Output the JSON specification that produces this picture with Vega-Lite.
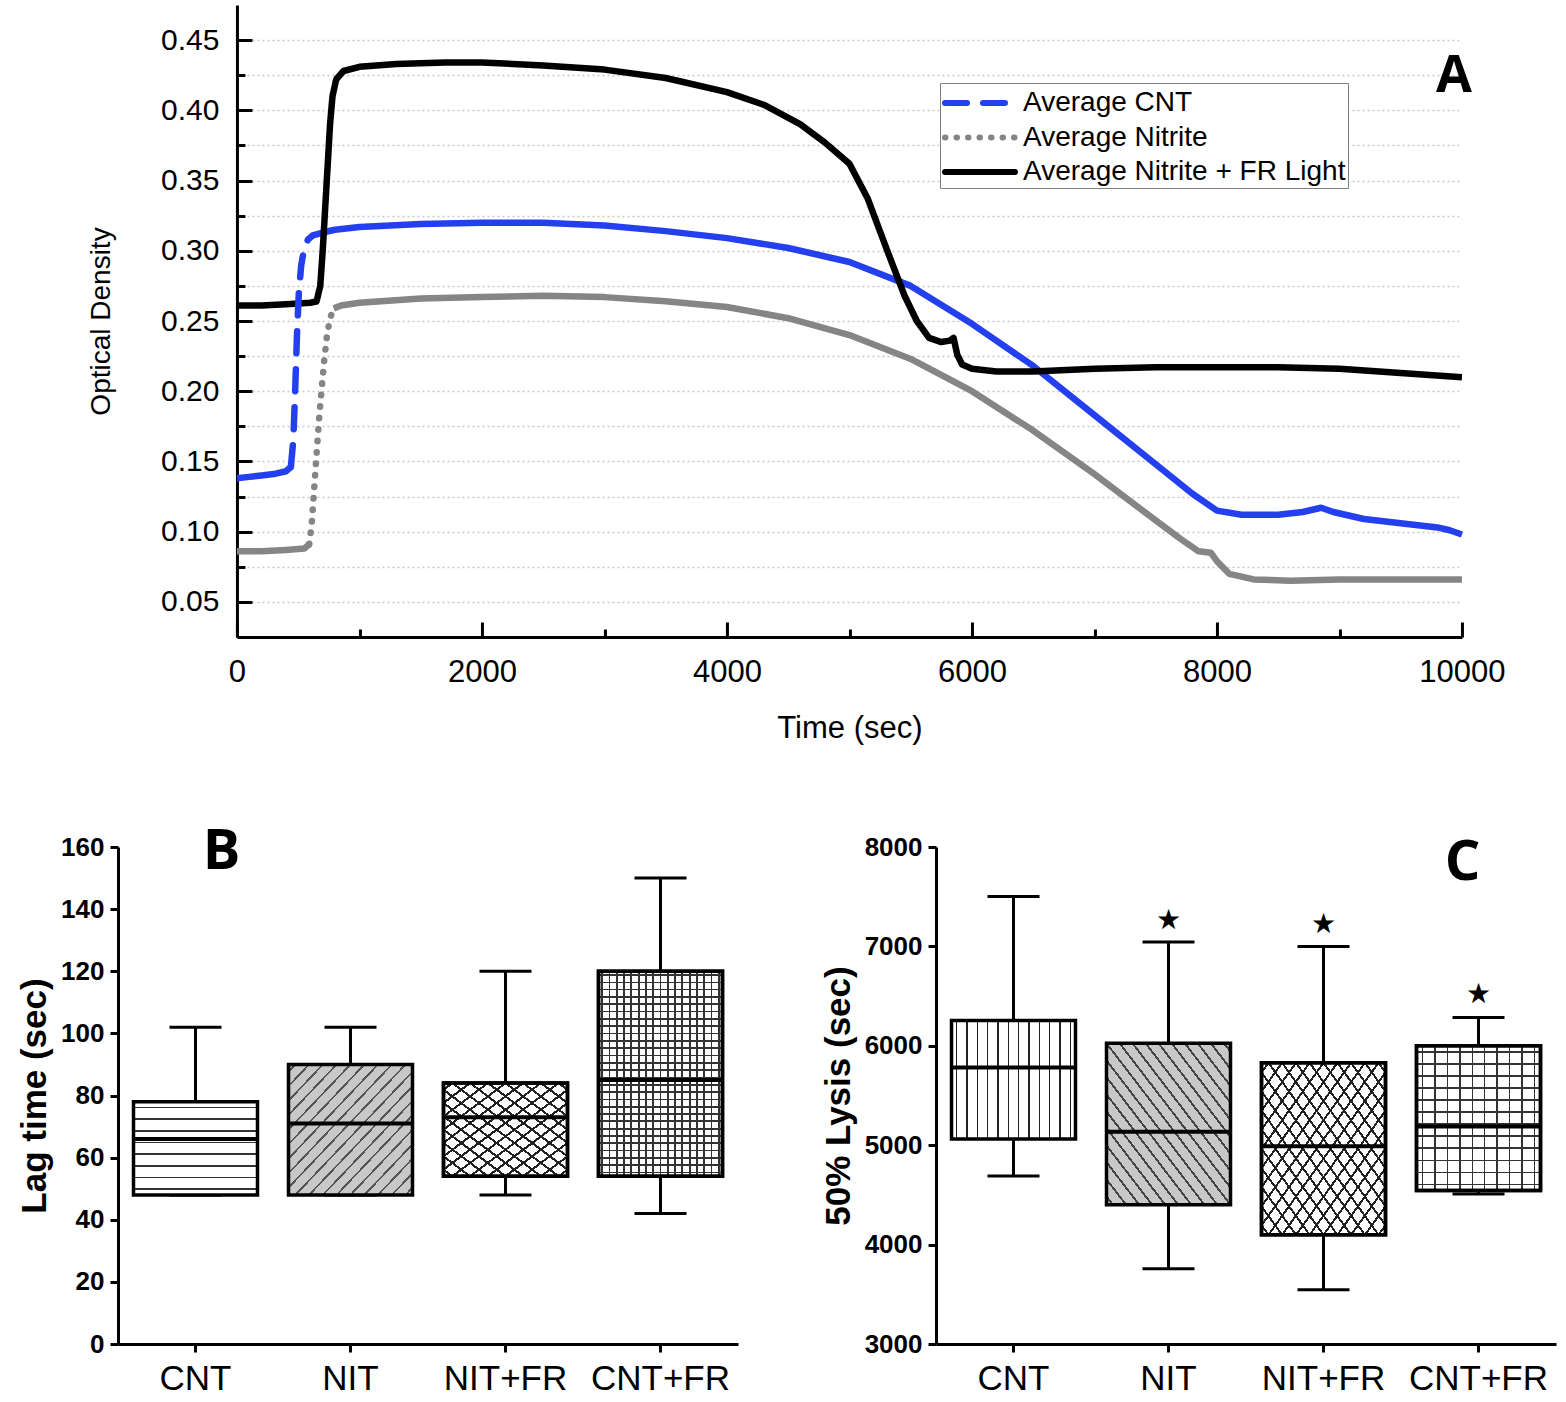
{
"$schema": "https://vega.github.io/schema/vega-lite/v6.json",
"background": "white",
"padding": {"left": 17, "top": 5, "right": 5, "bottom": 5},
"spacing": 80,
"center": true,
"config": {
  "view": {"stroke": null},
  "font": "Liberation Sans",
  "axis": {"domainColor": "#000", "tickColor": "#000", "labelColor": "#000", "titleColor": "#000", "domainWidth": 3, "tickWidth": 3, "labelFont": "Liberation Sans", "titleFont": "Liberation Sans"}
},
"vconcat": [
{
  "width": 1225, "height": 632,
  "data": {"values": [
    {"series":"Average CNT","part":"pre","time":0,"od":0.138},
    {"series":"Average CNT","part":"pre","time":100,"od":0.139},
    {"series":"Average CNT","part":"pre","time":200,"od":0.14},
    {"series":"Average CNT","part":"pre","time":300,"od":0.141},
    {"series":"Average CNT","part":"pre","time":400,"od":0.143},
    {"series":"Average CNT","part":"pre","time":440,"od":0.146},
    {"series":"Average CNT","part":"rise","time":440,"od":0.146},
    {"series":"Average CNT","part":"rise","time":460,"od":0.165},
    {"series":"Average CNT","part":"rise","time":475,"od":0.2},
    {"series":"Average CNT","part":"rise","time":490,"od":0.24},
    {"series":"Average CNT","part":"rise","time":505,"od":0.27},
    {"series":"Average CNT","part":"rise","time":525,"od":0.29},
    {"series":"Average CNT","part":"rise","time":550,"od":0.302},
    {"series":"Average CNT","part":"rise","time":580,"od":0.308},
    {"series":"Average CNT","part":"rise","time":620,"od":0.311},
    {"series":"Average CNT","part":"post","time":620,"od":0.311},
    {"series":"Average CNT","part":"post","time":700,"od":0.313},
    {"series":"Average CNT","part":"post","time":800,"od":0.315},
    {"series":"Average CNT","part":"post","time":1000,"od":0.317},
    {"series":"Average CNT","part":"post","time":1500,"od":0.319},
    {"series":"Average CNT","part":"post","time":2000,"od":0.32},
    {"series":"Average CNT","part":"post","time":2500,"od":0.32},
    {"series":"Average CNT","part":"post","time":3000,"od":0.318},
    {"series":"Average CNT","part":"post","time":3500,"od":0.314},
    {"series":"Average CNT","part":"post","time":4000,"od":0.309},
    {"series":"Average CNT","part":"post","time":4500,"od":0.302},
    {"series":"Average CNT","part":"post","time":5000,"od":0.292},
    {"series":"Average CNT","part":"post","time":5500,"od":0.275},
    {"series":"Average CNT","part":"post","time":6000,"od":0.248},
    {"series":"Average CNT","part":"post","time":6500,"od":0.218},
    {"series":"Average CNT","part":"post","time":7000,"od":0.183},
    {"series":"Average CNT","part":"post","time":7500,"od":0.148},
    {"series":"Average CNT","part":"post","time":7800,"od":0.127},
    {"series":"Average CNT","part":"post","time":8000,"od":0.115},
    {"series":"Average CNT","part":"post","time":8200,"od":0.112},
    {"series":"Average CNT","part":"post","time":8500,"od":0.112},
    {"series":"Average CNT","part":"post","time":8700,"od":0.114},
    {"series":"Average CNT","part":"post","time":8850,"od":0.117},
    {"series":"Average CNT","part":"post","time":8950,"od":0.114},
    {"series":"Average CNT","part":"post","time":9200,"od":0.109},
    {"series":"Average CNT","part":"post","time":9500,"od":0.106},
    {"series":"Average CNT","part":"post","time":9800,"od":0.103},
    {"series":"Average CNT","part":"post","time":9900,"od":0.101},
    {"series":"Average CNT","part":"post","time":10000,"od":0.098},
    {"series":"Average Nitrite","part":"pre","time":0,"od":0.086},
    {"series":"Average Nitrite","part":"pre","time":200,"od":0.086},
    {"series":"Average Nitrite","part":"pre","time":400,"od":0.087},
    {"series":"Average Nitrite","part":"pre","time":550,"od":0.088},
    {"series":"Average Nitrite","part":"pre","time":590,"od":0.091},
    {"series":"Average Nitrite","part":"rise","time":590,"od":0.091},
    {"series":"Average Nitrite","part":"rise","time":610,"od":0.105},
    {"series":"Average Nitrite","part":"rise","time":630,"od":0.13},
    {"series":"Average Nitrite","part":"rise","time":650,"od":0.155},
    {"series":"Average Nitrite","part":"rise","time":670,"od":0.18},
    {"series":"Average Nitrite","part":"rise","time":690,"od":0.2},
    {"series":"Average Nitrite","part":"rise","time":710,"od":0.22},
    {"series":"Average Nitrite","part":"rise","time":735,"od":0.24},
    {"series":"Average Nitrite","part":"rise","time":760,"od":0.252},
    {"series":"Average Nitrite","part":"rise","time":790,"od":0.259},
    {"series":"Average Nitrite","part":"post","time":790,"od":0.259},
    {"series":"Average Nitrite","part":"post","time":850,"od":0.261},
    {"series":"Average Nitrite","part":"post","time":1000,"od":0.263},
    {"series":"Average Nitrite","part":"post","time":1500,"od":0.266},
    {"series":"Average Nitrite","part":"post","time":2000,"od":0.267},
    {"series":"Average Nitrite","part":"post","time":2500,"od":0.268},
    {"series":"Average Nitrite","part":"post","time":3000,"od":0.267},
    {"series":"Average Nitrite","part":"post","time":3500,"od":0.264},
    {"series":"Average Nitrite","part":"post","time":4000,"od":0.26},
    {"series":"Average Nitrite","part":"post","time":4500,"od":0.252},
    {"series":"Average Nitrite","part":"post","time":5000,"od":0.24},
    {"series":"Average Nitrite","part":"post","time":5500,"od":0.223},
    {"series":"Average Nitrite","part":"post","time":6000,"od":0.2},
    {"series":"Average Nitrite","part":"post","time":6500,"od":0.172},
    {"series":"Average Nitrite","part":"post","time":7000,"od":0.141},
    {"series":"Average Nitrite","part":"post","time":7500,"od":0.108},
    {"series":"Average Nitrite","part":"post","time":7700,"od":0.095},
    {"series":"Average Nitrite","part":"post","time":7850,"od":0.086},
    {"series":"Average Nitrite","part":"post","time":7950,"od":0.085},
    {"series":"Average Nitrite","part":"post","time":8000,"od":0.079},
    {"series":"Average Nitrite","part":"post","time":8100,"od":0.07},
    {"series":"Average Nitrite","part":"post","time":8300,"od":0.066},
    {"series":"Average Nitrite","part":"post","time":8600,"od":0.065},
    {"series":"Average Nitrite","part":"post","time":9000,"od":0.066},
    {"series":"Average Nitrite","part":"post","time":9500,"od":0.066},
    {"series":"Average Nitrite","part":"post","time":10000,"od":0.066},
    {"series":"Average Nitrite + FR Light","part":"pre","time":0,"od":0.261},
    {"series":"Average Nitrite + FR Light","part":"pre","time":200,"od":0.261},
    {"series":"Average Nitrite + FR Light","part":"pre","time":400,"od":0.262},
    {"series":"Average Nitrite + FR Light","part":"pre","time":600,"od":0.263},
    {"series":"Average Nitrite + FR Light","part":"pre","time":650,"od":0.264},
    {"series":"Average Nitrite + FR Light","part":"rise","time":650,"od":0.264},
    {"series":"Average Nitrite + FR Light","part":"rise","time":680,"od":0.275},
    {"series":"Average Nitrite + FR Light","part":"rise","time":700,"od":0.3},
    {"series":"Average Nitrite + FR Light","part":"rise","time":720,"od":0.33},
    {"series":"Average Nitrite + FR Light","part":"rise","time":740,"od":0.36},
    {"series":"Average Nitrite + FR Light","part":"rise","time":760,"od":0.39},
    {"series":"Average Nitrite + FR Light","part":"rise","time":780,"od":0.41},
    {"series":"Average Nitrite + FR Light","part":"rise","time":810,"od":0.422},
    {"series":"Average Nitrite + FR Light","part":"post","time":810,"od":0.422},
    {"series":"Average Nitrite + FR Light","part":"post","time":870,"od":0.428},
    {"series":"Average Nitrite + FR Light","part":"post","time":1000,"od":0.431},
    {"series":"Average Nitrite + FR Light","part":"post","time":1300,"od":0.433},
    {"series":"Average Nitrite + FR Light","part":"post","time":1700,"od":0.434},
    {"series":"Average Nitrite + FR Light","part":"post","time":2000,"od":0.434},
    {"series":"Average Nitrite + FR Light","part":"post","time":2500,"od":0.432},
    {"series":"Average Nitrite + FR Light","part":"post","time":3000,"od":0.429},
    {"series":"Average Nitrite + FR Light","part":"post","time":3500,"od":0.423},
    {"series":"Average Nitrite + FR Light","part":"post","time":4000,"od":0.413},
    {"series":"Average Nitrite + FR Light","part":"post","time":4300,"od":0.404},
    {"series":"Average Nitrite + FR Light","part":"post","time":4600,"od":0.39},
    {"series":"Average Nitrite + FR Light","part":"post","time":4800,"od":0.377},
    {"series":"Average Nitrite + FR Light","part":"post","time":5000,"od":0.362},
    {"series":"Average Nitrite + FR Light","part":"post","time":5150,"od":0.337},
    {"series":"Average Nitrite + FR Light","part":"post","time":5300,"od":0.302},
    {"series":"Average Nitrite + FR Light","part":"post","time":5450,"od":0.268},
    {"series":"Average Nitrite + FR Light","part":"post","time":5550,"od":0.25},
    {"series":"Average Nitrite + FR Light","part":"post","time":5650,"od":0.238},
    {"series":"Average Nitrite + FR Light","part":"post","time":5750,"od":0.235},
    {"series":"Average Nitrite + FR Light","part":"post","time":5820,"od":0.236},
    {"series":"Average Nitrite + FR Light","part":"post","time":5850,"od":0.238},
    {"series":"Average Nitrite + FR Light","part":"post","time":5880,"od":0.226},
    {"series":"Average Nitrite + FR Light","part":"post","time":5920,"od":0.219},
    {"series":"Average Nitrite + FR Light","part":"post","time":6000,"od":0.216},
    {"series":"Average Nitrite + FR Light","part":"post","time":6200,"od":0.214},
    {"series":"Average Nitrite + FR Light","part":"post","time":6500,"od":0.214},
    {"series":"Average Nitrite + FR Light","part":"post","time":7000,"od":0.216},
    {"series":"Average Nitrite + FR Light","part":"post","time":7500,"od":0.217},
    {"series":"Average Nitrite + FR Light","part":"post","time":8000,"od":0.217},
    {"series":"Average Nitrite + FR Light","part":"post","time":8500,"od":0.217},
    {"series":"Average Nitrite + FR Light","part":"post","time":9000,"od":0.216},
    {"series":"Average Nitrite + FR Light","part":"post","time":9500,"od":0.213},
    {"series":"Average Nitrite + FR Light","part":"post","time":10000,"od":0.21}
  ]},
  "resolve": {"axis": {"x": "independent", "y": "independent"}},
  "layer": [
    {
      "transform": [{"filter": "datum.part !== 'rise'"}],
      "mark": {"type": "line", "strokeWidth": 6.5, "strokeJoin": "round"},
      "encoding": {
        "x": {"field": "time", "type": "quantitative", "scale": {"domain": [0, 10000], "nice": false},
              "axis": {"values": [0, 2000, 4000, 6000, 8000, 10000], "format": "d", "tickSize": -15, "labelPadding": 35, "labelFontSize": 31, "labelFlush": false, "title": "Time (sec)", "titleFontSize": 31, "titleFontWeight": "normal", "titlePadding": 26, "grid": false}},
        "y": {"field": "od", "type": "quantitative", "scale": {"domain": [0.025, 0.475], "nice": false, "zero": false},
              "axis": {"values": [0.05, 0.1, 0.15, 0.2, 0.25, 0.3, 0.35, 0.4, 0.45], "format": ".2f", "tickSize": -15, "labelPadding": 33, "labelFontSize": 30, "title": "Optical Density", "titleFontSize": 28, "titleFontWeight": "normal", "titlePadding": 45, "grid": true, "gridColor": "#c8c8c8", "gridDash": [2, 3], "gridWidth": 1.5}},
        "color": {"field": "series", "type": "nominal", "scale": {"domain": ["Average CNT", "Average Nitrite", "Average Nitrite + FR Light"], "range": ["#2440ee", "#858585", "#000000"]}},
        "detail": {"field": "part"}
      }
    },
    {
      "transform": [{"filter": "datum.part === 'rise'"}],
      "mark": {"type": "line", "strokeWidth": 6.5, "strokeCap": "round"},
      "encoding": {
        "x": {"field": "time", "type": "quantitative", "scale": {"domain": [0, 10000], "nice": false},
              "axis": {"orient": "bottom", "values": [1000, 3000, 5000, 7000, 9000], "tickSize": -8, "labels": false, "domain": false, "grid": false, "title": null}},
        "y": {"field": "od", "type": "quantitative", "scale": {"domain": [0.025, 0.475], "nice": false, "zero": false},
              "axis": {"orient": "left", "values": [0.075, 0.125, 0.175, 0.225, 0.275, 0.325, 0.375, 0.425], "tickSize": -8, "labels": false, "domain": false, "grid": true, "gridColor": "#c8c8c8", "gridDash": [2, 3], "gridWidth": 1.5, "title": null}},
        "color": {"field": "series", "type": "nominal", "scale": {"domain": ["Average CNT", "Average Nitrite", "Average Nitrite + FR Light"], "range": ["#2440ee", "#858585", "#000000"]},
                  "legend": {"title": null, "orient": "none", "legendX": 822, "legendY": 78, "symbolType": "M-1,0H3.667", "symbolSize": 900, "symbolStrokeWidth": 6, "labelFontSize": 28, "labelFont": "Liberation Sans", "labelColor": "#000", "labelLimit": 0, "labelOffset": 45, "strokeColor": "#808080", "fillColor": "#ffffff", "padding": 2, "rowPadding": 2.5, "encode": {"symbols": {"update": {"strokeCap": {"value": "round"}}}}}},
        "strokeDash": {"field": "series", "type": "nominal", "scale": {"domain": ["Average CNT", "Average Nitrite", "Average Nitrite + FR Light"], "range": [[22, 16], [0.5, 11], [1, 0]]},
                  "legend": {"title": null, "orient": "none", "legendX": 822, "legendY": 78, "symbolType": "M-1,0H3.667", "symbolSize": 900, "symbolStrokeWidth": 6, "labelFontSize": 28, "labelFont": "Liberation Sans", "labelColor": "#000", "labelLimit": 0, "labelOffset": 45, "strokeColor": "#808080", "fillColor": "#ffffff", "padding": 2, "rowPadding": 2.5, "encode": {"symbols": {"update": {"strokeCap": {"value": "round"}}}}}},
        "detail": {"field": "part"}
      }
    },
    {
      "data": {"values": [{"label": "A"}]},
      "mark": {"type": "text", "font": "Open Sans", "fontWeight": "bold", "fontSize": 52, "baseline": "middle", "align": "center"},
      "encoding": {
        "x": {"datum": 9935, "type": "quantitative", "axis": null},
        "y": {"datum": 0.4244, "type": "quantitative", "axis": null},
        "text": {"field": "label"}
      }
    }
  ]
},
{
  "spacing": 83,
  "hconcat": [
  {
    "width": 620, "height": 497,
    "data": {"values": [
      {"g": "CNT", "min": 48, "q1": 48, "med": 66, "q3": 78, "max": 102},
      {"g": "NIT", "min": 48, "q1": 48, "med": 71, "q3": 90, "max": 102},
      {"g": "NIT+FR", "min": 48, "q1": 54, "med": 73, "q3": 84, "max": 120},
      {"g": "CNT+FR", "min": 42, "q1": 54, "med": 85, "q3": 120, "max": 150}
    ]},
    "encoding": {"x": {"field": "g", "type": "nominal", "sort": ["CNT", "NIT", "NIT+FR", "CNT+FR"], "scale": {"paddingInner": 0.2, "paddingOuter": 0.1},
                       "axis": {"title": null, "labelAngle": 0, "labelFontSize": 35, "tickSize": 8, "labelPadding": 9}}},
    "layer": [
      {"mark": {"type": "rule", "strokeWidth": 3, "color": "#000"},
       "encoding": {"y": {"field": "min", "type": "quantitative", "scale": {"domain": [0, 160], "nice": false},
                          "axis": {"values": [0, 20, 40, 60, 80, 100, 120, 140, 160], "labelFontSize": 26, "labelFontWeight": "bold", "tickSize": 8, "labelPadding": 6, "title": "Lag time (sec)", "titleFontSize": 35, "titleFontWeight": "bold", "titlePadding": 8, "grid": false}},
                    "y2": {"field": "max"}}},
      {"mark": {"type": "tick", "size": 52, "thickness": 3, "color": "#000", "opacity": 1},
       "encoding": {"y": {"field": "max", "type": "quantitative", "scale": {"domain": [0, 160], "nice": false}}}},
      {"mark": {"type": "tick", "size": 52, "thickness": 3, "color": "#000", "opacity": 1},
       "encoding": {"y": {"field": "min", "type": "quantitative", "scale": {"domain": [0, 160], "nice": false}}}},
      {"transform": [{"filter": "datum.g === 'CNT'"}],
       "mark": {"type": "bar", "stroke": "#000", "strokeWidth": 3.5,
         "fill": {"gradient": "linear", "x1": 0, "y1": 0, "x2": 0, "y2": 1, "stops": [
           {"offset":0,"color":"#fff"},
           {"offset":0.054,"color":"#fff"},{"offset":0.054,"color":"#333"},{"offset":0.071,"color":"#333"},{"offset":0.071,"color":"#fff"},
           {"offset":0.179,"color":"#fff"},{"offset":0.179,"color":"#333"},{"offset":0.196,"color":"#333"},{"offset":0.196,"color":"#fff"},
           {"offset":0.304,"color":"#fff"},{"offset":0.304,"color":"#333"},{"offset":0.321,"color":"#333"},{"offset":0.321,"color":"#fff"},
           {"offset":0.429,"color":"#fff"},{"offset":0.429,"color":"#333"},{"offset":0.446,"color":"#333"},{"offset":0.446,"color":"#fff"},
           {"offset":0.554,"color":"#fff"},{"offset":0.554,"color":"#333"},{"offset":0.571,"color":"#333"},{"offset":0.571,"color":"#fff"},
           {"offset":0.679,"color":"#fff"},{"offset":0.679,"color":"#333"},{"offset":0.696,"color":"#333"},{"offset":0.696,"color":"#fff"},
           {"offset":0.804,"color":"#fff"},{"offset":0.804,"color":"#333"},{"offset":0.821,"color":"#333"},{"offset":0.821,"color":"#fff"},
           {"offset":0.929,"color":"#fff"},{"offset":0.929,"color":"#333"},{"offset":0.946,"color":"#333"},{"offset":0.946,"color":"#fff"},
           {"offset":1,"color":"#fff"}]}},
       "encoding": {"y": {"field": "q1", "type": "quantitative", "scale": {"domain": [0, 160], "nice": false}}, "y2": {"field": "q3"}}},
      {"transform": [{"filter": "datum.g === 'NIT'"}],
       "mark": {"type": "bar", "stroke": "#000", "strokeWidth": 3.5,
         "fill": {"gradient": "linear", "x1": 0, "y1": 0, "x2": 1, "y2": 1, "stops": [
           {"offset":0,"color":"#c8c8c8"},
           {"offset":0.023,"color":"#c8c8c8"},{"offset":0.023,"color":"#555"},{"offset":0.033,"color":"#555"},{"offset":0.033,"color":"#c8c8c8"},
           {"offset":0.078,"color":"#c8c8c8"},{"offset":0.078,"color":"#555"},{"offset":0.088,"color":"#555"},{"offset":0.088,"color":"#c8c8c8"},
           {"offset":0.134,"color":"#c8c8c8"},{"offset":0.134,"color":"#555"},{"offset":0.144,"color":"#555"},{"offset":0.144,"color":"#c8c8c8"},
           {"offset":0.189,"color":"#c8c8c8"},{"offset":0.189,"color":"#555"},{"offset":0.199,"color":"#555"},{"offset":0.199,"color":"#c8c8c8"},
           {"offset":0.245,"color":"#c8c8c8"},{"offset":0.245,"color":"#555"},{"offset":0.255,"color":"#555"},{"offset":0.255,"color":"#c8c8c8"},
           {"offset":0.301,"color":"#c8c8c8"},{"offset":0.301,"color":"#555"},{"offset":0.311,"color":"#555"},{"offset":0.311,"color":"#c8c8c8"},
           {"offset":0.356,"color":"#c8c8c8"},{"offset":0.356,"color":"#555"},{"offset":0.366,"color":"#555"},{"offset":0.366,"color":"#c8c8c8"},
           {"offset":0.412,"color":"#c8c8c8"},{"offset":0.412,"color":"#555"},{"offset":0.422,"color":"#555"},{"offset":0.422,"color":"#c8c8c8"},
           {"offset":0.467,"color":"#c8c8c8"},{"offset":0.467,"color":"#555"},{"offset":0.477,"color":"#555"},{"offset":0.477,"color":"#c8c8c8"},
           {"offset":0.523,"color":"#c8c8c8"},{"offset":0.523,"color":"#555"},{"offset":0.533,"color":"#555"},{"offset":0.533,"color":"#c8c8c8"},
           {"offset":0.578,"color":"#c8c8c8"},{"offset":0.578,"color":"#555"},{"offset":0.588,"color":"#555"},{"offset":0.588,"color":"#c8c8c8"},
           {"offset":0.634,"color":"#c8c8c8"},{"offset":0.634,"color":"#555"},{"offset":0.644,"color":"#555"},{"offset":0.644,"color":"#c8c8c8"},
           {"offset":0.689,"color":"#c8c8c8"},{"offset":0.689,"color":"#555"},{"offset":0.699,"color":"#555"},{"offset":0.699,"color":"#c8c8c8"},
           {"offset":0.745,"color":"#c8c8c8"},{"offset":0.745,"color":"#555"},{"offset":0.755,"color":"#555"},{"offset":0.755,"color":"#c8c8c8"},
           {"offset":0.801,"color":"#c8c8c8"},{"offset":0.801,"color":"#555"},{"offset":0.811,"color":"#555"},{"offset":0.811,"color":"#c8c8c8"},
           {"offset":0.856,"color":"#c8c8c8"},{"offset":0.856,"color":"#555"},{"offset":0.866,"color":"#555"},{"offset":0.866,"color":"#c8c8c8"},
           {"offset":0.912,"color":"#c8c8c8"},{"offset":0.912,"color":"#555"},{"offset":0.922,"color":"#555"},{"offset":0.922,"color":"#c8c8c8"},
           {"offset":0.967,"color":"#c8c8c8"},{"offset":0.967,"color":"#555"},{"offset":0.977,"color":"#555"},{"offset":0.977,"color":"#c8c8c8"},
           {"offset":1,"color":"#c8c8c8"}]}},
       "encoding": {"y": {"field": "q1", "type": "quantitative", "scale": {"domain": [0, 160], "nice": false}}, "y2": {"field": "q3"}}},
      {"transform": [{"filter": "datum.g === 'NIT+FR'"}],
       "mark": {"type": "bar", "stroke": "#000", "strokeWidth": 3.5,
         "fill": {"gradient": "linear", "x1": 0, "y1": 0, "x2": 1, "y2": 1, "stops": [
           {"offset":0,"color":"#fff"},
           {"offset":0.029,"color":"#fff"},{"offset":0.029,"color":"#222"},{"offset":0.043,"color":"#222"},{"offset":0.043,"color":"#fff"},
           {"offset":0.100,"color":"#fff"},{"offset":0.100,"color":"#222"},{"offset":0.114,"color":"#222"},{"offset":0.114,"color":"#fff"},
           {"offset":0.172,"color":"#fff"},{"offset":0.172,"color":"#222"},{"offset":0.186,"color":"#222"},{"offset":0.186,"color":"#fff"},
           {"offset":0.243,"color":"#fff"},{"offset":0.243,"color":"#222"},{"offset":0.257,"color":"#222"},{"offset":0.257,"color":"#fff"},
           {"offset":0.314,"color":"#fff"},{"offset":0.314,"color":"#222"},{"offset":0.328,"color":"#222"},{"offset":0.328,"color":"#fff"},
           {"offset":0.386,"color":"#fff"},{"offset":0.386,"color":"#222"},{"offset":0.400,"color":"#222"},{"offset":0.400,"color":"#fff"},
           {"offset":0.457,"color":"#fff"},{"offset":0.457,"color":"#222"},{"offset":0.471,"color":"#222"},{"offset":0.471,"color":"#fff"},
           {"offset":0.529,"color":"#fff"},{"offset":0.529,"color":"#222"},{"offset":0.543,"color":"#222"},{"offset":0.543,"color":"#fff"},
           {"offset":0.600,"color":"#fff"},{"offset":0.600,"color":"#222"},{"offset":0.614,"color":"#222"},{"offset":0.614,"color":"#fff"},
           {"offset":0.672,"color":"#fff"},{"offset":0.672,"color":"#222"},{"offset":0.686,"color":"#222"},{"offset":0.686,"color":"#fff"},
           {"offset":0.743,"color":"#fff"},{"offset":0.743,"color":"#222"},{"offset":0.757,"color":"#222"},{"offset":0.757,"color":"#fff"},
           {"offset":0.814,"color":"#fff"},{"offset":0.814,"color":"#222"},{"offset":0.828,"color":"#222"},{"offset":0.828,"color":"#fff"},
           {"offset":0.886,"color":"#fff"},{"offset":0.886,"color":"#222"},{"offset":0.900,"color":"#222"},{"offset":0.900,"color":"#fff"},
           {"offset":0.957,"color":"#fff"},{"offset":0.957,"color":"#222"},{"offset":0.971,"color":"#222"},{"offset":0.971,"color":"#fff"},
           {"offset":1,"color":"#fff"}]}},
       "encoding": {"y": {"field": "q1", "type": "quantitative", "scale": {"domain": [0, 160], "nice": false}}, "y2": {"field": "q3"}}},
      {"transform": [{"filter": "datum.g === 'NIT+FR'"}],
       "mark": {"type": "bar", "stroke": "#000", "strokeWidth": 3.5,
         "fill": {"gradient": "linear", "x1": 1, "y1": 0, "x2": 0, "y2": 1, "stops": [
           {"offset":0,"color":"rgba(0,0,0,0)"},
           {"offset":0.029,"color":"rgba(0,0,0,0)"},{"offset":0.029,"color":"#222"},{"offset":0.043,"color":"#222"},{"offset":0.043,"color":"rgba(0,0,0,0)"},
           {"offset":0.100,"color":"rgba(0,0,0,0)"},{"offset":0.100,"color":"#222"},{"offset":0.114,"color":"#222"},{"offset":0.114,"color":"rgba(0,0,0,0)"},
           {"offset":0.172,"color":"rgba(0,0,0,0)"},{"offset":0.172,"color":"#222"},{"offset":0.186,"color":"#222"},{"offset":0.186,"color":"rgba(0,0,0,0)"},
           {"offset":0.243,"color":"rgba(0,0,0,0)"},{"offset":0.243,"color":"#222"},{"offset":0.257,"color":"#222"},{"offset":0.257,"color":"rgba(0,0,0,0)"},
           {"offset":0.314,"color":"rgba(0,0,0,0)"},{"offset":0.314,"color":"#222"},{"offset":0.328,"color":"#222"},{"offset":0.328,"color":"rgba(0,0,0,0)"},
           {"offset":0.386,"color":"rgba(0,0,0,0)"},{"offset":0.386,"color":"#222"},{"offset":0.400,"color":"#222"},{"offset":0.400,"color":"rgba(0,0,0,0)"},
           {"offset":0.457,"color":"rgba(0,0,0,0)"},{"offset":0.457,"color":"#222"},{"offset":0.471,"color":"#222"},{"offset":0.471,"color":"rgba(0,0,0,0)"},
           {"offset":0.529,"color":"rgba(0,0,0,0)"},{"offset":0.529,"color":"#222"},{"offset":0.543,"color":"#222"},{"offset":0.543,"color":"rgba(0,0,0,0)"},
           {"offset":0.600,"color":"rgba(0,0,0,0)"},{"offset":0.600,"color":"#222"},{"offset":0.614,"color":"#222"},{"offset":0.614,"color":"rgba(0,0,0,0)"},
           {"offset":0.672,"color":"rgba(0,0,0,0)"},{"offset":0.672,"color":"#222"},{"offset":0.686,"color":"#222"},{"offset":0.686,"color":"rgba(0,0,0,0)"},
           {"offset":0.743,"color":"rgba(0,0,0,0)"},{"offset":0.743,"color":"#222"},{"offset":0.757,"color":"#222"},{"offset":0.757,"color":"rgba(0,0,0,0)"},
           {"offset":0.814,"color":"rgba(0,0,0,0)"},{"offset":0.814,"color":"#222"},{"offset":0.828,"color":"#222"},{"offset":0.828,"color":"rgba(0,0,0,0)"},
           {"offset":0.886,"color":"rgba(0,0,0,0)"},{"offset":0.886,"color":"#222"},{"offset":0.900,"color":"#222"},{"offset":0.900,"color":"rgba(0,0,0,0)"},
           {"offset":0.957,"color":"rgba(0,0,0,0)"},{"offset":0.957,"color":"#222"},{"offset":0.971,"color":"#222"},{"offset":0.971,"color":"rgba(0,0,0,0)"},
           {"offset":1,"color":"rgba(0,0,0,0)"}]}},
       "encoding": {"y": {"field": "q1", "type": "quantitative", "scale": {"domain": [0, 160], "nice": false}}, "y2": {"field": "q3"}}},
      {"transform": [{"filter": "datum.g === 'CNT+FR'"}],
       "mark": {"type": "bar", "stroke": "#000", "strokeWidth": 3.5,
         "fill": {"gradient": "linear", "x1": 0, "y1": 0, "x2": 1, "y2": 0, "stops": [
           {"offset":0,"color":"#fff"},
           {"offset":0.022,"color":"#fff"},{"offset":0.022,"color":"#333"},{"offset":0.036,"color":"#333"},{"offset":0.036,"color":"#fff"},
           {"offset":0.081,"color":"#fff"},{"offset":0.081,"color":"#333"},{"offset":0.095,"color":"#333"},{"offset":0.095,"color":"#fff"},
           {"offset":0.140,"color":"#fff"},{"offset":0.140,"color":"#333"},{"offset":0.154,"color":"#333"},{"offset":0.154,"color":"#fff"},
           {"offset":0.199,"color":"#fff"},{"offset":0.199,"color":"#333"},{"offset":0.213,"color":"#333"},{"offset":0.213,"color":"#fff"},
           {"offset":0.258,"color":"#fff"},{"offset":0.258,"color":"#333"},{"offset":0.272,"color":"#333"},{"offset":0.272,"color":"#fff"},
           {"offset":0.317,"color":"#fff"},{"offset":0.317,"color":"#333"},{"offset":0.331,"color":"#333"},{"offset":0.331,"color":"#fff"},
           {"offset":0.375,"color":"#fff"},{"offset":0.375,"color":"#333"},{"offset":0.389,"color":"#333"},{"offset":0.389,"color":"#fff"},
           {"offset":0.434,"color":"#fff"},{"offset":0.434,"color":"#333"},{"offset":0.448,"color":"#333"},{"offset":0.448,"color":"#fff"},
           {"offset":0.493,"color":"#fff"},{"offset":0.493,"color":"#333"},{"offset":0.507,"color":"#333"},{"offset":0.507,"color":"#fff"},
           {"offset":0.552,"color":"#fff"},{"offset":0.552,"color":"#333"},{"offset":0.566,"color":"#333"},{"offset":0.566,"color":"#fff"},
           {"offset":0.611,"color":"#fff"},{"offset":0.611,"color":"#333"},{"offset":0.625,"color":"#333"},{"offset":0.625,"color":"#fff"},
           {"offset":0.669,"color":"#fff"},{"offset":0.669,"color":"#333"},{"offset":0.683,"color":"#333"},{"offset":0.683,"color":"#fff"},
           {"offset":0.728,"color":"#fff"},{"offset":0.728,"color":"#333"},{"offset":0.742,"color":"#333"},{"offset":0.742,"color":"#fff"},
           {"offset":0.787,"color":"#fff"},{"offset":0.787,"color":"#333"},{"offset":0.801,"color":"#333"},{"offset":0.801,"color":"#fff"},
           {"offset":0.846,"color":"#fff"},{"offset":0.846,"color":"#333"},{"offset":0.860,"color":"#333"},{"offset":0.860,"color":"#fff"},
           {"offset":0.905,"color":"#fff"},{"offset":0.905,"color":"#333"},{"offset":0.919,"color":"#333"},{"offset":0.919,"color":"#fff"},
           {"offset":0.964,"color":"#fff"},{"offset":0.964,"color":"#333"},{"offset":0.978,"color":"#333"},{"offset":0.978,"color":"#fff"},
           {"offset":1,"color":"#fff"}]}},
       "encoding": {"y": {"field": "q1", "type": "quantitative", "scale": {"domain": [0, 160], "nice": false}}, "y2": {"field": "q3"}}},
      {"transform": [{"filter": "datum.g === 'CNT+FR'"}],
       "mark": {"type": "bar", "stroke": "#000", "strokeWidth": 3.5,
         "fill": {"gradient": "linear", "x1": 0, "y1": 0, "x2": 0, "y2": 1, "stops": [
           {"offset":0,"color":"rgba(0,0,0,0)"},
           {"offset":0.014,"color":"rgba(0,0,0,0)"},{"offset":0.014,"color":"#333"},{"offset":0.022,"color":"#333"},{"offset":0.022,"color":"rgba(0,0,0,0)"},
           {"offset":0.050,"color":"rgba(0,0,0,0)"},{"offset":0.050,"color":"#333"},{"offset":0.058,"color":"#333"},{"offset":0.058,"color":"rgba(0,0,0,0)"},
           {"offset":0.085,"color":"rgba(0,0,0,0)"},{"offset":0.085,"color":"#333"},{"offset":0.093,"color":"#333"},{"offset":0.093,"color":"rgba(0,0,0,0)"},
           {"offset":0.121,"color":"rgba(0,0,0,0)"},{"offset":0.121,"color":"#333"},{"offset":0.129,"color":"#333"},{"offset":0.129,"color":"rgba(0,0,0,0)"},
           {"offset":0.157,"color":"rgba(0,0,0,0)"},{"offset":0.157,"color":"#333"},{"offset":0.165,"color":"#333"},{"offset":0.165,"color":"rgba(0,0,0,0)"},
           {"offset":0.192,"color":"rgba(0,0,0,0)"},{"offset":0.192,"color":"#333"},{"offset":0.200,"color":"#333"},{"offset":0.200,"color":"rgba(0,0,0,0)"},
           {"offset":0.228,"color":"rgba(0,0,0,0)"},{"offset":0.228,"color":"#333"},{"offset":0.236,"color":"#333"},{"offset":0.236,"color":"rgba(0,0,0,0)"},
           {"offset":0.264,"color":"rgba(0,0,0,0)"},{"offset":0.264,"color":"#333"},{"offset":0.272,"color":"#333"},{"offset":0.272,"color":"rgba(0,0,0,0)"},
           {"offset":0.300,"color":"rgba(0,0,0,0)"},{"offset":0.300,"color":"#333"},{"offset":0.308,"color":"#333"},{"offset":0.308,"color":"rgba(0,0,0,0)"},
           {"offset":0.335,"color":"rgba(0,0,0,0)"},{"offset":0.335,"color":"#333"},{"offset":0.343,"color":"#333"},{"offset":0.343,"color":"rgba(0,0,0,0)"},
           {"offset":0.371,"color":"rgba(0,0,0,0)"},{"offset":0.371,"color":"#333"},{"offset":0.379,"color":"#333"},{"offset":0.379,"color":"rgba(0,0,0,0)"},
           {"offset":0.407,"color":"rgba(0,0,0,0)"},{"offset":0.407,"color":"#333"},{"offset":0.415,"color":"#333"},{"offset":0.415,"color":"rgba(0,0,0,0)"},
           {"offset":0.442,"color":"rgba(0,0,0,0)"},{"offset":0.442,"color":"#333"},{"offset":0.450,"color":"#333"},{"offset":0.450,"color":"rgba(0,0,0,0)"},
           {"offset":0.478,"color":"rgba(0,0,0,0)"},{"offset":0.478,"color":"#333"},{"offset":0.486,"color":"#333"},{"offset":0.486,"color":"rgba(0,0,0,0)"},
           {"offset":0.514,"color":"rgba(0,0,0,0)"},{"offset":0.514,"color":"#333"},{"offset":0.522,"color":"#333"},{"offset":0.522,"color":"rgba(0,0,0,0)"},
           {"offset":0.550,"color":"rgba(0,0,0,0)"},{"offset":0.550,"color":"#333"},{"offset":0.558,"color":"#333"},{"offset":0.558,"color":"rgba(0,0,0,0)"},
           {"offset":0.585,"color":"rgba(0,0,0,0)"},{"offset":0.585,"color":"#333"},{"offset":0.593,"color":"#333"},{"offset":0.593,"color":"rgba(0,0,0,0)"},
           {"offset":0.621,"color":"rgba(0,0,0,0)"},{"offset":0.621,"color":"#333"},{"offset":0.629,"color":"#333"},{"offset":0.629,"color":"rgba(0,0,0,0)"},
           {"offset":0.657,"color":"rgba(0,0,0,0)"},{"offset":0.657,"color":"#333"},{"offset":0.665,"color":"#333"},{"offset":0.665,"color":"rgba(0,0,0,0)"},
           {"offset":0.692,"color":"rgba(0,0,0,0)"},{"offset":0.692,"color":"#333"},{"offset":0.700,"color":"#333"},{"offset":0.700,"color":"rgba(0,0,0,0)"},
           {"offset":0.728,"color":"rgba(0,0,0,0)"},{"offset":0.728,"color":"#333"},{"offset":0.736,"color":"#333"},{"offset":0.736,"color":"rgba(0,0,0,0)"},
           {"offset":0.764,"color":"rgba(0,0,0,0)"},{"offset":0.764,"color":"#333"},{"offset":0.772,"color":"#333"},{"offset":0.772,"color":"rgba(0,0,0,0)"},
           {"offset":0.800,"color":"rgba(0,0,0,0)"},{"offset":0.800,"color":"#333"},{"offset":0.808,"color":"#333"},{"offset":0.808,"color":"rgba(0,0,0,0)"},
           {"offset":0.835,"color":"rgba(0,0,0,0)"},{"offset":0.835,"color":"#333"},{"offset":0.843,"color":"#333"},{"offset":0.843,"color":"rgba(0,0,0,0)"},
           {"offset":0.871,"color":"rgba(0,0,0,0)"},{"offset":0.871,"color":"#333"},{"offset":0.879,"color":"#333"},{"offset":0.879,"color":"rgba(0,0,0,0)"},
           {"offset":0.907,"color":"rgba(0,0,0,0)"},{"offset":0.907,"color":"#333"},{"offset":0.915,"color":"#333"},{"offset":0.915,"color":"rgba(0,0,0,0)"},
           {"offset":0.942,"color":"rgba(0,0,0,0)"},{"offset":0.942,"color":"#333"},{"offset":0.950,"color":"#333"},{"offset":0.950,"color":"rgba(0,0,0,0)"},
           {"offset":0.978,"color":"rgba(0,0,0,0)"},{"offset":0.978,"color":"#333"},{"offset":0.986,"color":"#333"},{"offset":0.986,"color":"rgba(0,0,0,0)"},
           {"offset":1,"color":"rgba(0,0,0,0)"}]}},
       "encoding": {"y": {"field": "q1", "type": "quantitative", "scale": {"domain": [0, 160], "nice": false}}, "y2": {"field": "q3"}}},
      {"mark": {"type": "tick", "size": 124, "thickness": 4, "color": "#000", "opacity": 1},
       "encoding": {"y": {"field": "med", "type": "quantitative", "scale": {"domain": [0, 160], "nice": false}}}},
      {"data": {"values": [{"label": "B"}]},
       "mark": {"type": "text", "font": "Open Sans", "fontWeight": "bold", "fontSize": 56, "baseline": "middle", "align": "center", "dx": 26},
       "encoding": {"x": {"datum": "CNT", "type": "nominal"}, "y": {"datum": 158.4, "type": "quantitative"}, "text": {"field": "label"}}}
    ]
  },
  {
    "width": 620, "height": 497,
    "data": {"values": [
      {"g": "CNT", "min": 4690, "q1": 5062, "med": 5782, "q3": 6255, "max": 7502, "star": null},
      {"g": "NIT", "min": 3756, "q1": 4400, "med": 5135, "q3": 6025, "max": 7044, "star": 7255},
      {"g": "NIT+FR", "min": 3545, "q1": 4098, "med": 4989, "q3": 5829, "max": 7000, "star": 7218},
      {"g": "CNT+FR", "min": 4509, "q1": 4545, "med": 5189, "q3": 6000, "max": 6284, "star": 6509}
    ]},
    "encoding": {"x": {"field": "g", "type": "nominal", "sort": ["CNT", "NIT", "NIT+FR", "CNT+FR"], "scale": {"paddingInner": 0.2, "paddingOuter": 0.1},
                       "axis": {"labelAngle": 0, "labelFontSize": 35, "tickSize": 8, "labelPadding": 9, "title": " ", "titleOpacity": 0, "titleFontSize": 10, "titleX": 688, "titleY": 18, "titleAlign": "left", "titleBaseline": "top"}}},
    "layer": [
      {"mark": {"type": "rule", "strokeWidth": 3, "color": "#000"},
       "encoding": {"y": {"field": "min", "type": "quantitative", "scale": {"domain": [3000, 8000], "nice": false, "zero": false},
                          "axis": {"values": [3000, 4000, 5000, 6000, 7000, 8000], "format": "d", "labelFontSize": 26, "labelFontWeight": "bold", "tickSize": 8, "labelPadding": 6, "title": "50% Lysis (sec)", "titleFontSize": 35, "titleFontWeight": "bold", "titlePadding": 8, "grid": false}},
                    "y2": {"field": "max"}}},
      {"mark": {"type": "tick", "size": 52, "thickness": 3, "color": "#000", "opacity": 1},
       "encoding": {"y": {"field": "max", "type": "quantitative", "scale": {"domain": [3000, 8000], "nice": false, "zero": false}}}},
      {"mark": {"type": "tick", "size": 52, "thickness": 3, "color": "#000", "opacity": 1},
       "encoding": {"y": {"field": "min", "type": "quantitative", "scale": {"domain": [3000, 8000], "nice": false, "zero": false}}}},
      {"transform": [{"filter": "datum.g === 'CNT'"}],
       "mark": {"type": "bar", "stroke": "#000", "strokeWidth": 3.5,
         "fill": {"gradient": "linear", "x1": 0, "y1": 0, "x2": 1, "y2": 0, "stops": [
           {"offset":0,"color":"#fff"},
           {"offset":0.036,"color":"#fff"},{"offset":0.036,"color":"#222"},{"offset":0.048,"color":"#222"},{"offset":0.048,"color":"#fff"},
           {"offset":0.119,"color":"#fff"},{"offset":0.119,"color":"#222"},{"offset":0.131,"color":"#222"},{"offset":0.131,"color":"#fff"},
           {"offset":0.202,"color":"#fff"},{"offset":0.202,"color":"#222"},{"offset":0.214,"color":"#222"},{"offset":0.214,"color":"#fff"},
           {"offset":0.286,"color":"#fff"},{"offset":0.286,"color":"#222"},{"offset":0.298,"color":"#222"},{"offset":0.298,"color":"#fff"},
           {"offset":0.369,"color":"#fff"},{"offset":0.369,"color":"#222"},{"offset":0.381,"color":"#222"},{"offset":0.381,"color":"#fff"},
           {"offset":0.452,"color":"#fff"},{"offset":0.452,"color":"#222"},{"offset":0.464,"color":"#222"},{"offset":0.464,"color":"#fff"},
           {"offset":0.536,"color":"#fff"},{"offset":0.536,"color":"#222"},{"offset":0.548,"color":"#222"},{"offset":0.548,"color":"#fff"},
           {"offset":0.619,"color":"#fff"},{"offset":0.619,"color":"#222"},{"offset":0.631,"color":"#222"},{"offset":0.631,"color":"#fff"},
           {"offset":0.702,"color":"#fff"},{"offset":0.702,"color":"#222"},{"offset":0.714,"color":"#222"},{"offset":0.714,"color":"#fff"},
           {"offset":0.786,"color":"#fff"},{"offset":0.786,"color":"#222"},{"offset":0.798,"color":"#222"},{"offset":0.798,"color":"#fff"},
           {"offset":0.869,"color":"#fff"},{"offset":0.869,"color":"#222"},{"offset":0.881,"color":"#222"},{"offset":0.881,"color":"#fff"},
           {"offset":0.952,"color":"#fff"},{"offset":0.952,"color":"#222"},{"offset":0.964,"color":"#222"},{"offset":0.964,"color":"#fff"},
           {"offset":1,"color":"#fff"}]}},
       "encoding": {"y": {"field": "q1", "type": "quantitative", "scale": {"domain": [3000, 8000], "nice": false, "zero": false}}, "y2": {"field": "q3"}}},
      {"transform": [{"filter": "datum.g === 'NIT'"}],
       "mark": {"type": "bar", "stroke": "#000", "strokeWidth": 3.5,
         "fill": {"gradient": "linear", "x1": 1, "y1": 0, "x2": 0, "y2": 1, "stops": [
           {"offset":0,"color":"#c8c8c8"},
           {"offset":0.021,"color":"#c8c8c8"},{"offset":0.021,"color":"#444"},{"offset":0.031,"color":"#444"},{"offset":0.031,"color":"#c8c8c8"},
           {"offset":0.074,"color":"#c8c8c8"},{"offset":0.074,"color":"#444"},{"offset":0.084,"color":"#444"},{"offset":0.084,"color":"#c8c8c8"},
           {"offset":0.127,"color":"#c8c8c8"},{"offset":0.127,"color":"#444"},{"offset":0.137,"color":"#444"},{"offset":0.137,"color":"#c8c8c8"},
           {"offset":0.179,"color":"#c8c8c8"},{"offset":0.179,"color":"#444"},{"offset":0.189,"color":"#444"},{"offset":0.189,"color":"#c8c8c8"},
           {"offset":0.232,"color":"#c8c8c8"},{"offset":0.232,"color":"#444"},{"offset":0.242,"color":"#444"},{"offset":0.242,"color":"#c8c8c8"},
           {"offset":0.285,"color":"#c8c8c8"},{"offset":0.285,"color":"#444"},{"offset":0.295,"color":"#444"},{"offset":0.295,"color":"#c8c8c8"},
           {"offset":0.337,"color":"#c8c8c8"},{"offset":0.337,"color":"#444"},{"offset":0.347,"color":"#444"},{"offset":0.347,"color":"#c8c8c8"},
           {"offset":0.390,"color":"#c8c8c8"},{"offset":0.390,"color":"#444"},{"offset":0.400,"color":"#444"},{"offset":0.400,"color":"#c8c8c8"},
           {"offset":0.442,"color":"#c8c8c8"},{"offset":0.442,"color":"#444"},{"offset":0.452,"color":"#444"},{"offset":0.452,"color":"#c8c8c8"},
           {"offset":0.495,"color":"#c8c8c8"},{"offset":0.495,"color":"#444"},{"offset":0.505,"color":"#444"},{"offset":0.505,"color":"#c8c8c8"},
           {"offset":0.548,"color":"#c8c8c8"},{"offset":0.548,"color":"#444"},{"offset":0.558,"color":"#444"},{"offset":0.558,"color":"#c8c8c8"},
           {"offset":0.600,"color":"#c8c8c8"},{"offset":0.600,"color":"#444"},{"offset":0.610,"color":"#444"},{"offset":0.610,"color":"#c8c8c8"},
           {"offset":0.653,"color":"#c8c8c8"},{"offset":0.653,"color":"#444"},{"offset":0.663,"color":"#444"},{"offset":0.663,"color":"#c8c8c8"},
           {"offset":0.706,"color":"#c8c8c8"},{"offset":0.706,"color":"#444"},{"offset":0.716,"color":"#444"},{"offset":0.716,"color":"#c8c8c8"},
           {"offset":0.758,"color":"#c8c8c8"},{"offset":0.758,"color":"#444"},{"offset":0.768,"color":"#444"},{"offset":0.768,"color":"#c8c8c8"},
           {"offset":0.811,"color":"#c8c8c8"},{"offset":0.811,"color":"#444"},{"offset":0.821,"color":"#444"},{"offset":0.821,"color":"#c8c8c8"},
           {"offset":0.863,"color":"#c8c8c8"},{"offset":0.863,"color":"#444"},{"offset":0.873,"color":"#444"},{"offset":0.873,"color":"#c8c8c8"},
           {"offset":0.916,"color":"#c8c8c8"},{"offset":0.916,"color":"#444"},{"offset":0.926,"color":"#444"},{"offset":0.926,"color":"#c8c8c8"},
           {"offset":0.969,"color":"#c8c8c8"},{"offset":0.969,"color":"#444"},{"offset":0.979,"color":"#444"},{"offset":0.979,"color":"#c8c8c8"},
           {"offset":1,"color":"#c8c8c8"}]}},
       "encoding": {"y": {"field": "q1", "type": "quantitative", "scale": {"domain": [3000, 8000], "nice": false, "zero": false}}, "y2": {"field": "q3"}}},
      {"transform": [{"filter": "datum.g === 'NIT+FR'"}],
       "mark": {"type": "bar", "stroke": "#000", "strokeWidth": 3.5,
         "fill": {"gradient": "linear", "x1": 0, "y1": 0, "x2": 1, "y2": 1, "stops": [
           {"offset":0,"color":"#fff"},
           {"offset":0.023,"color":"#fff"},{"offset":0.023,"color":"#222"},{"offset":0.033,"color":"#222"},{"offset":0.033,"color":"#fff"},
           {"offset":0.078,"color":"#fff"},{"offset":0.078,"color":"#222"},{"offset":0.088,"color":"#222"},{"offset":0.088,"color":"#fff"},
           {"offset":0.134,"color":"#fff"},{"offset":0.134,"color":"#222"},{"offset":0.144,"color":"#222"},{"offset":0.144,"color":"#fff"},
           {"offset":0.189,"color":"#fff"},{"offset":0.189,"color":"#222"},{"offset":0.199,"color":"#222"},{"offset":0.199,"color":"#fff"},
           {"offset":0.245,"color":"#fff"},{"offset":0.245,"color":"#222"},{"offset":0.255,"color":"#222"},{"offset":0.255,"color":"#fff"},
           {"offset":0.301,"color":"#fff"},{"offset":0.301,"color":"#222"},{"offset":0.311,"color":"#222"},{"offset":0.311,"color":"#fff"},
           {"offset":0.356,"color":"#fff"},{"offset":0.356,"color":"#222"},{"offset":0.366,"color":"#222"},{"offset":0.366,"color":"#fff"},
           {"offset":0.412,"color":"#fff"},{"offset":0.412,"color":"#222"},{"offset":0.422,"color":"#222"},{"offset":0.422,"color":"#fff"},
           {"offset":0.467,"color":"#fff"},{"offset":0.467,"color":"#222"},{"offset":0.477,"color":"#222"},{"offset":0.477,"color":"#fff"},
           {"offset":0.523,"color":"#fff"},{"offset":0.523,"color":"#222"},{"offset":0.533,"color":"#222"},{"offset":0.533,"color":"#fff"},
           {"offset":0.578,"color":"#fff"},{"offset":0.578,"color":"#222"},{"offset":0.588,"color":"#222"},{"offset":0.588,"color":"#fff"},
           {"offset":0.634,"color":"#fff"},{"offset":0.634,"color":"#222"},{"offset":0.644,"color":"#222"},{"offset":0.644,"color":"#fff"},
           {"offset":0.689,"color":"#fff"},{"offset":0.689,"color":"#222"},{"offset":0.699,"color":"#222"},{"offset":0.699,"color":"#fff"},
           {"offset":0.745,"color":"#fff"},{"offset":0.745,"color":"#222"},{"offset":0.755,"color":"#222"},{"offset":0.755,"color":"#fff"},
           {"offset":0.801,"color":"#fff"},{"offset":0.801,"color":"#222"},{"offset":0.811,"color":"#222"},{"offset":0.811,"color":"#fff"},
           {"offset":0.856,"color":"#fff"},{"offset":0.856,"color":"#222"},{"offset":0.866,"color":"#222"},{"offset":0.866,"color":"#fff"},
           {"offset":0.912,"color":"#fff"},{"offset":0.912,"color":"#222"},{"offset":0.922,"color":"#222"},{"offset":0.922,"color":"#fff"},
           {"offset":0.967,"color":"#fff"},{"offset":0.967,"color":"#222"},{"offset":0.977,"color":"#222"},{"offset":0.977,"color":"#fff"},
           {"offset":1,"color":"#fff"}]}},
       "encoding": {"y": {"field": "q1", "type": "quantitative", "scale": {"domain": [3000, 8000], "nice": false, "zero": false}}, "y2": {"field": "q3"}}},
      {"transform": [{"filter": "datum.g === 'NIT+FR'"}],
       "mark": {"type": "bar", "stroke": "#000", "strokeWidth": 3.5,
         "fill": {"gradient": "linear", "x1": 1, "y1": 0, "x2": 0, "y2": 1, "stops": [
           {"offset":0,"color":"rgba(0,0,0,0)"},
           {"offset":0.023,"color":"rgba(0,0,0,0)"},{"offset":0.023,"color":"#222"},{"offset":0.033,"color":"#222"},{"offset":0.033,"color":"rgba(0,0,0,0)"},
           {"offset":0.078,"color":"rgba(0,0,0,0)"},{"offset":0.078,"color":"#222"},{"offset":0.088,"color":"#222"},{"offset":0.088,"color":"rgba(0,0,0,0)"},
           {"offset":0.134,"color":"rgba(0,0,0,0)"},{"offset":0.134,"color":"#222"},{"offset":0.144,"color":"#222"},{"offset":0.144,"color":"rgba(0,0,0,0)"},
           {"offset":0.189,"color":"rgba(0,0,0,0)"},{"offset":0.189,"color":"#222"},{"offset":0.199,"color":"#222"},{"offset":0.199,"color":"rgba(0,0,0,0)"},
           {"offset":0.245,"color":"rgba(0,0,0,0)"},{"offset":0.245,"color":"#222"},{"offset":0.255,"color":"#222"},{"offset":0.255,"color":"rgba(0,0,0,0)"},
           {"offset":0.301,"color":"rgba(0,0,0,0)"},{"offset":0.301,"color":"#222"},{"offset":0.311,"color":"#222"},{"offset":0.311,"color":"rgba(0,0,0,0)"},
           {"offset":0.356,"color":"rgba(0,0,0,0)"},{"offset":0.356,"color":"#222"},{"offset":0.366,"color":"#222"},{"offset":0.366,"color":"rgba(0,0,0,0)"},
           {"offset":0.412,"color":"rgba(0,0,0,0)"},{"offset":0.412,"color":"#222"},{"offset":0.422,"color":"#222"},{"offset":0.422,"color":"rgba(0,0,0,0)"},
           {"offset":0.467,"color":"rgba(0,0,0,0)"},{"offset":0.467,"color":"#222"},{"offset":0.477,"color":"#222"},{"offset":0.477,"color":"rgba(0,0,0,0)"},
           {"offset":0.523,"color":"rgba(0,0,0,0)"},{"offset":0.523,"color":"#222"},{"offset":0.533,"color":"#222"},{"offset":0.533,"color":"rgba(0,0,0,0)"},
           {"offset":0.578,"color":"rgba(0,0,0,0)"},{"offset":0.578,"color":"#222"},{"offset":0.588,"color":"#222"},{"offset":0.588,"color":"rgba(0,0,0,0)"},
           {"offset":0.634,"color":"rgba(0,0,0,0)"},{"offset":0.634,"color":"#222"},{"offset":0.644,"color":"#222"},{"offset":0.644,"color":"rgba(0,0,0,0)"},
           {"offset":0.689,"color":"rgba(0,0,0,0)"},{"offset":0.689,"color":"#222"},{"offset":0.699,"color":"#222"},{"offset":0.699,"color":"rgba(0,0,0,0)"},
           {"offset":0.745,"color":"rgba(0,0,0,0)"},{"offset":0.745,"color":"#222"},{"offset":0.755,"color":"#222"},{"offset":0.755,"color":"rgba(0,0,0,0)"},
           {"offset":0.801,"color":"rgba(0,0,0,0)"},{"offset":0.801,"color":"#222"},{"offset":0.811,"color":"#222"},{"offset":0.811,"color":"rgba(0,0,0,0)"},
           {"offset":0.856,"color":"rgba(0,0,0,0)"},{"offset":0.856,"color":"#222"},{"offset":0.866,"color":"#222"},{"offset":0.866,"color":"rgba(0,0,0,0)"},
           {"offset":0.912,"color":"rgba(0,0,0,0)"},{"offset":0.912,"color":"#222"},{"offset":0.922,"color":"#222"},{"offset":0.922,"color":"rgba(0,0,0,0)"},
           {"offset":0.967,"color":"rgba(0,0,0,0)"},{"offset":0.967,"color":"#222"},{"offset":0.977,"color":"#222"},{"offset":0.977,"color":"rgba(0,0,0,0)"},
           {"offset":1,"color":"rgba(0,0,0,0)"}]}},
       "encoding": {"y": {"field": "q1", "type": "quantitative", "scale": {"domain": [3000, 8000], "nice": false, "zero": false}}, "y2": {"field": "q3"}}},
      {"transform": [{"filter": "datum.g === 'CNT+FR'"}],
       "mark": {"type": "bar", "stroke": "#000", "strokeWidth": 3.5,
         "fill": {"gradient": "linear", "x1": 0, "y1": 0, "x2": 1, "y2": 0, "stops": [
           {"offset":0,"color":"#fff"},
           {"offset":0.044,"color":"#fff"},{"offset":0.044,"color":"#333"},{"offset":0.056,"color":"#333"},{"offset":0.056,"color":"#fff"},
           {"offset":0.144,"color":"#fff"},{"offset":0.144,"color":"#333"},{"offset":0.156,"color":"#333"},{"offset":0.156,"color":"#fff"},
           {"offset":0.244,"color":"#fff"},{"offset":0.244,"color":"#333"},{"offset":0.256,"color":"#333"},{"offset":0.256,"color":"#fff"},
           {"offset":0.344,"color":"#fff"},{"offset":0.344,"color":"#333"},{"offset":0.356,"color":"#333"},{"offset":0.356,"color":"#fff"},
           {"offset":0.444,"color":"#fff"},{"offset":0.444,"color":"#333"},{"offset":0.456,"color":"#333"},{"offset":0.456,"color":"#fff"},
           {"offset":0.544,"color":"#fff"},{"offset":0.544,"color":"#333"},{"offset":0.556,"color":"#333"},{"offset":0.556,"color":"#fff"},
           {"offset":0.644,"color":"#fff"},{"offset":0.644,"color":"#333"},{"offset":0.656,"color":"#333"},{"offset":0.656,"color":"#fff"},
           {"offset":0.744,"color":"#fff"},{"offset":0.744,"color":"#333"},{"offset":0.756,"color":"#333"},{"offset":0.756,"color":"#fff"},
           {"offset":0.844,"color":"#fff"},{"offset":0.844,"color":"#333"},{"offset":0.856,"color":"#333"},{"offset":0.856,"color":"#fff"},
           {"offset":0.944,"color":"#fff"},{"offset":0.944,"color":"#333"},{"offset":0.956,"color":"#333"},{"offset":0.956,"color":"#fff"},
           {"offset":1,"color":"#fff"}]}},
       "encoding": {"y": {"field": "q1", "type": "quantitative", "scale": {"domain": [3000, 8000], "nice": false, "zero": false}}, "y2": {"field": "q3"}}},
      {"transform": [{"filter": "datum.g === 'CNT+FR'"}],
       "mark": {"type": "bar", "stroke": "#000", "strokeWidth": 3.5,
         "fill": {"gradient": "linear", "x1": 0, "y1": 0, "x2": 0, "y2": 1, "stops": [
           {"offset":0,"color":"rgba(0,0,0,0)"},
           {"offset":0.037,"color":"rgba(0,0,0,0)"},{"offset":0.037,"color":"#333"},{"offset":0.047,"color":"#333"},{"offset":0.047,"color":"rgba(0,0,0,0)"},
           {"offset":0.120,"color":"rgba(0,0,0,0)"},{"offset":0.120,"color":"#333"},{"offset":0.130,"color":"#333"},{"offset":0.130,"color":"rgba(0,0,0,0)"},
           {"offset":0.203,"color":"rgba(0,0,0,0)"},{"offset":0.203,"color":"#333"},{"offset":0.213,"color":"#333"},{"offset":0.213,"color":"rgba(0,0,0,0)"},
           {"offset":0.287,"color":"rgba(0,0,0,0)"},{"offset":0.287,"color":"#333"},{"offset":0.297,"color":"#333"},{"offset":0.297,"color":"rgba(0,0,0,0)"},
           {"offset":0.370,"color":"rgba(0,0,0,0)"},{"offset":0.370,"color":"#333"},{"offset":0.380,"color":"#333"},{"offset":0.380,"color":"rgba(0,0,0,0)"},
           {"offset":0.453,"color":"rgba(0,0,0,0)"},{"offset":0.453,"color":"#333"},{"offset":0.463,"color":"#333"},{"offset":0.463,"color":"rgba(0,0,0,0)"},
           {"offset":0.537,"color":"rgba(0,0,0,0)"},{"offset":0.537,"color":"#333"},{"offset":0.547,"color":"#333"},{"offset":0.547,"color":"rgba(0,0,0,0)"},
           {"offset":0.620,"color":"rgba(0,0,0,0)"},{"offset":0.620,"color":"#333"},{"offset":0.630,"color":"#333"},{"offset":0.630,"color":"rgba(0,0,0,0)"},
           {"offset":0.703,"color":"rgba(0,0,0,0)"},{"offset":0.703,"color":"#333"},{"offset":0.713,"color":"#333"},{"offset":0.713,"color":"rgba(0,0,0,0)"},
           {"offset":0.787,"color":"rgba(0,0,0,0)"},{"offset":0.787,"color":"#333"},{"offset":0.797,"color":"#333"},{"offset":0.797,"color":"rgba(0,0,0,0)"},
           {"offset":0.870,"color":"rgba(0,0,0,0)"},{"offset":0.870,"color":"#333"},{"offset":0.880,"color":"#333"},{"offset":0.880,"color":"rgba(0,0,0,0)"},
           {"offset":0.953,"color":"rgba(0,0,0,0)"},{"offset":0.953,"color":"#333"},{"offset":0.963,"color":"#333"},{"offset":0.963,"color":"rgba(0,0,0,0)"},
           {"offset":1,"color":"rgba(0,0,0,0)"}]}},
       "encoding": {"y": {"field": "q1", "type": "quantitative", "scale": {"domain": [3000, 8000], "nice": false, "zero": false}}, "y2": {"field": "q3"}}},
      {"mark": {"type": "tick", "size": 124, "thickness": 4, "color": "#000", "opacity": 1},
       "encoding": {"y": {"field": "med", "type": "quantitative", "scale": {"domain": [3000, 8000], "nice": false, "zero": false}}}},
      {"transform": [{"filter": "datum.star != null"}],
       "mark": {"type": "text", "text": "★", "font": "DejaVu Sans", "fontSize": 28, "baseline": "middle", "align": "center", "color": "#000"},
       "encoding": {"y": {"field": "star", "type": "quantitative", "scale": {"domain": [3000, 8000], "nice": false, "zero": false}}}},
      {"data": {"values": [{"label": "C"}]},
       "mark": {"type": "text", "font": "Open Sans", "fontWeight": "bold", "fontSize": 56, "baseline": "middle", "align": "center", "dx": -16},
       "encoding": {"x": {"datum": "CNT+FR", "type": "nominal"}, "y": {"datum": 7840, "type": "quantitative"}, "text": {"field": "label"}}}
    ]
  }
  ]
}
]
}
